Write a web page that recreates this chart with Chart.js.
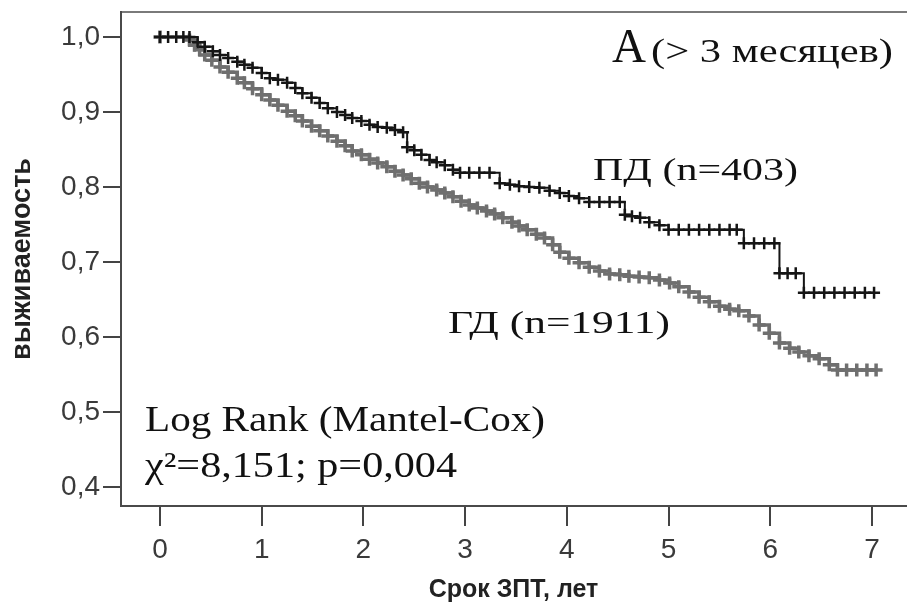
<!DOCTYPE html>
<html>
<head>
<meta charset="utf-8">
<script src="https://cdn.jsdelivr.net/npm/chart.js@4/dist/chart.umd.min.js"></script>
<style>
  body { margin: 0; background: #fff; overflow: hidden; }
  /* правая рамка графика обрезана краем картинки */
  #wrap { width: 916px; height: 610px; }
</style>
</head>
<body>
<div id="wrap"><canvas id="myChart"></canvas></div>
<script>
// ПД (n=403) - годы и выживаемость (включая цензурированные точки)
const pdTime = [0, 0.08, 0.16, 0.23, 0.29, 0.37, 0.44, 0.52, 0.59, 0.67, 0.76, 0.83, 0.91, 1.00, 1.08, 1.16, 1.25, 1.33, 1.40, 1.49, 1.57, 1.65, 1.74, 1.82, 1.89, 1.98, 2.06, 2.14, 2.23, 2.31, 2.39, 2.43, 2.50, 2.57, 2.65, 2.72, 2.80, 2.88, 2.95, 3.04, 3.14, 3.24, 3.34, 3.44, 3.53, 3.63, 3.73, 3.83, 3.93, 4.02, 4.12, 4.22, 4.32, 4.42, 4.52, 4.57, 4.64, 4.72, 4.81, 4.91, 5.00, 5.10, 5.20, 5.30, 5.40, 5.50, 5.60, 5.67, 5.74, 5.84, 5.94, 6.04, 6.09, 6.17, 6.25, 6.33, 6.43, 6.53, 6.63, 6.73, 6.83, 6.93, 7.02];
const pdSurv = [1.0, 1.0, 1.0, 1.0, 1.0, 0.993, 0.987, 0.981, 0.976, 0.972, 0.967, 0.963, 0.959, 0.952, 0.945, 0.943, 0.939, 0.932, 0.925, 0.919, 0.912, 0.905, 0.900, 0.896, 0.892, 0.888, 0.883, 0.880, 0.879, 0.876, 0.873, 0.853, 0.849, 0.843, 0.836, 0.833, 0.829, 0.823, 0.819, 0.819, 0.819, 0.819, 0.805, 0.803, 0.801, 0.800, 0.799, 0.795, 0.792, 0.788, 0.785, 0.780, 0.780, 0.780, 0.780, 0.763, 0.761, 0.759, 0.753, 0.749, 0.743, 0.743, 0.743, 0.743, 0.743, 0.743, 0.743, 0.743, 0.725, 0.725, 0.725, 0.725, 0.685, 0.685, 0.685, 0.659, 0.659, 0.659, 0.659, 0.659, 0.659, 0.659, 0.659];

// ГД (n=1911)
const gdTime = [0, 0.29, 0.34, 0.39, 0.44, 0.51, 0.59, 0.67, 0.76, 0.83, 0.91, 1.00, 1.08, 1.16, 1.25, 1.33, 1.40, 1.49, 1.57, 1.65, 1.74, 1.82, 1.89, 1.98, 2.06, 2.14, 2.23, 2.31, 2.39, 2.47, 2.55, 2.63, 2.72, 2.80, 2.88, 2.96, 3.04, 3.12, 3.21, 3.29, 3.37, 3.46, 3.53, 3.61, 3.70, 3.78, 3.86, 3.93, 4.02, 4.12, 4.22, 4.32, 4.42, 4.52, 4.61, 4.71, 4.81, 4.91, 5.01, 5.10, 5.20, 5.30, 5.40, 5.50, 5.60, 5.69, 5.79, 5.89, 5.99, 6.09, 6.19, 6.28, 6.38, 6.48, 6.58, 6.66, 6.75, 6.85, 6.95, 7.04];
const gdSurv = [1.0, 0.996, 0.989, 0.983, 0.976, 0.969, 0.960, 0.953, 0.945, 0.939, 0.931, 0.923, 0.916, 0.909, 0.901, 0.895, 0.888, 0.881, 0.875, 0.868, 0.861, 0.855, 0.848, 0.843, 0.837, 0.832, 0.827, 0.821, 0.816, 0.811, 0.805, 0.800, 0.796, 0.792, 0.787, 0.781, 0.776, 0.772, 0.768, 0.764, 0.759, 0.753, 0.748, 0.743, 0.737, 0.732, 0.723, 0.713, 0.705, 0.699, 0.693, 0.688, 0.684, 0.683, 0.681, 0.680, 0.679, 0.676, 0.672, 0.667, 0.660, 0.653, 0.647, 0.641, 0.637, 0.635, 0.628, 0.616, 0.605, 0.592, 0.585, 0.580, 0.575, 0.571, 0.563, 0.556, 0.556, 0.556, 0.556, 0.556];

const xTicks = [0, 1, 2, 3, 4, 5, 6, 7];
const yTicks = [0.4, 0.5, 0.6, 0.7, 0.8, 0.9, 1.0];

const xTitle = 'Срок ЗПТ, лет';
const yTitle = 'выживаемость';

// подписи на графике
const notes = [
  { text: 'А', font: '48px "Liberation Serif"', x: 612, y: 62, w: 34 },
  { text: '(> 3 месяцев)', font: '34px "Liberation Serif"', x: 651, y: 62, w: 242 },
  { text: 'ПД (n=403)', font: '32px "Liberation Serif"', x: 593, y: 180, w: 205 },
  { text: 'ГД (n=1911)', font: '32px "Liberation Serif"', x: 448, y: 333, w: 222 },
  { text: 'Log Rank (Mantel-Cox)', font: '35px "Liberation Serif"', x: 145, y: 431, w: 400 },
  { text: 'χ²=8,151; p=0,004', font: '35px "Liberation Serif"', x: 145, y: 477, w: 312 }
];

function toPoints(t, s) {
  return t.map(function(x, i) { return { x: x, y: s[i] }; });
}

const notesPlugin = {
  id: 'notes',
  afterDraw(chart) {
    const ctx = chart.ctx;
    ctx.save();
    ctx.fillStyle = '#111';
    ctx.textBaseline = 'alphabetic';
    ctx.textAlign = 'left';
    notes.forEach(function(n) {
      ctx.font = n.font;
      const m = ctx.measureText(n.text).width;
      ctx.save();
      ctx.translate(n.x, n.y);
      ctx.scale(n.w / m, 1);
      ctx.fillText(n.text, 0, 0);
      ctx.restore();
    });
    ctx.restore();
  }
};

const ctx = document.getElementById('myChart').getContext('2d');
const myChart = new Chart(ctx, {
  type: 'scatter',
  data: {
    datasets: [{
      label: 'ПД (n=403)',
      data: toPoints(pdTime, pdSurv),
      showLine: true,
      stepped: true,
      borderColor: '#151515',
      borderWidth: 2,
      pointStyle: 'cross',
      pointRadius: 6,
      pointBorderWidth: 2.5,
      pointBorderColor: '#151515',
      pointHoverRadius: 6
    }, {
      label: 'ГД (n=1911)',
      data: toPoints(gdTime, gdSurv),
      showLine: true,
      stepped: true,
      borderColor: '#6f6f6f',
      borderWidth: 3.5,
      pointStyle: 'cross',
      pointRadius: 6.5,
      pointBorderWidth: 3.5,
      pointBorderColor: '#6f6f6f',
      pointHoverRadius: 6
    }]
  },
  options: {
    responsive: true,
    maintainAspectRatio: false,
    animation: false,
    layout: { padding: { top: 12, right: 0, left: 0, bottom: 0 } },
    plugins: {
      legend: { display: false },
      tooltip: { enabled: false }
    },
    scales: {
      x: {
        type: 'linear',
        position: 'bottom',
        min: -0.383,
        max: 7.334,
        afterBuildTicks: function(scale) {
          scale.ticks = xTicks.map(function(v) { return { value: v }; });
        },
        afterFit: function(scale) { scale.height = 104; },
        ticks: {
          color: '#3a3a3a',
          padding: 7,
          font: { family: 'Liberation Sans', size: 28 },
          maxRotation: 0,
          callback: function(v) { return String(v); }
        },
        grid: { drawOnChartArea: false, tickLength: 20, color: '#444', lineWidth: 2 },
        border: { display: true, color: '#4a4a4a', width: 2 },
        title: {
          display: true,
          text: xTitle,
          color: '#222',
          font: { family: 'Liberation Sans', size: 25, weight: 'bold' },
          padding: { top: 0, bottom: 5 }
        }
      },
      x2: {
        type: 'linear',
        position: 'top',
        min: -0.383,
        max: 7.334,
        afterFit: function(scale) { scale.height = 0; },
        ticks: { display: false },
        grid: { drawOnChartArea: false, drawTicks: false },
        border: { display: true, color: '#7a7a7a', width: 2 }
      },
      y: {
        type: 'linear',
        position: 'left',
        min: 0.3747,
        max: 1.0333,
        afterBuildTicks: function(scale) {
          scale.ticks = yTicks.map(function(v) { return { value: v }; });
        },
        afterFit: function(scale) { scale.width = 121; },
        ticks: {
          color: '#3a3a3a',
          padding: 3,
          font: { family: 'Liberation Sans', size: 28, lineHeight: 0.6 },
          callback: function(v) { return v.toFixed(1).replace('.', ','); }
        },
        grid: { drawOnChartArea: false, tickLength: 18, color: '#444', lineWidth: 2 },
        border: { display: true, color: '#4a4a4a', width: 2 },
        title: {
          display: true,
          text: yTitle,
          color: '#222',
          font: { family: 'Liberation Sans', size: 27, weight: 'bold' },
          padding: { top: 6, bottom: 0 }
        }
      }
    }
  },
  plugins: [notesPlugin]
});
</script>
</body>
</html>
